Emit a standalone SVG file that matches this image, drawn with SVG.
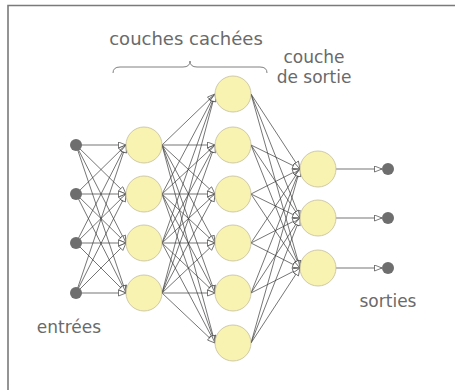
<svg xmlns="http://www.w3.org/2000/svg" width="455" height="390" viewBox="0 0 455 390">
<defs>
<style>
.frame{stroke:#7a7a7a;stroke-width:1.6;fill:none}
.lbl{font-family:"DejaVu Sans",sans-serif;font-size:17px;fill:#6a6a6a;text-anchor:middle}
.neuron{fill:#f8f3b0;stroke:#c4bea0;stroke-width:0.8}
.dot{fill:#6e6e6e}
.conn line{stroke:#3a3a3a;stroke-width:0.7;marker-end:url(#arr)}
.brace{fill:none;stroke:#808080;stroke-width:1}
</style>
<marker id="arr" markerUnits="userSpaceOnUse" markerWidth="10" markerHeight="8" refX="8" refY="3.5" orient="auto">
<path d="M0.5,0.5 L8,3.5 L0.5,6.5 z" fill="#fff" stroke="#444" stroke-width="0.7"/>
</marker>
</defs>
<rect x="0" y="0" width="455" height="390" fill="#fff"/>
<path class="frame" d="M8,390 L8,5.5 L455,5.5"/>

<g id="labels">
<text class="lbl" x="186" y="45" style="font-size:18px">couches cachées</text>
<path class="brace" d="M113,73 Q113,67 120,67 L183,67 Q190,67 190,61 Q190,67 197,67 L260,67 Q267,67 267,73"/>
<text class="lbl" x="314" y="63">couche</text>
<text class="lbl" x="314" y="83">de sortie</text>
<text class="lbl" x="69" y="333">entrées</text>
<text class="lbl" x="388" y="307">sorties</text>
</g>

<g id="connectors" class="conn">
<line x1="76" y1="145" x2="126" y2="145"/><line x1="76" y1="145" x2="126" y2="194"/><line x1="76" y1="145" x2="126" y2="243"/><line x1="76" y1="145" x2="126" y2="293"/>
<line x1="76" y1="194" x2="126" y2="145"/><line x1="76" y1="194" x2="126" y2="194"/><line x1="76" y1="194" x2="126" y2="243"/><line x1="76" y1="194" x2="126" y2="293"/>
<line x1="76" y1="243" x2="126" y2="145"/><line x1="76" y1="243" x2="126" y2="194"/><line x1="76" y1="243" x2="126" y2="243"/><line x1="76" y1="243" x2="126" y2="293"/>
<line x1="76" y1="293" x2="126" y2="145"/><line x1="76" y1="293" x2="126" y2="194"/><line x1="76" y1="293" x2="126" y2="243"/><line x1="76" y1="293" x2="126" y2="293"/>

<line x1="162" y1="145" x2="215" y2="94"/><line x1="162" y1="145" x2="215" y2="145"/><line x1="162" y1="145" x2="215" y2="194"/><line x1="162" y1="145" x2="215" y2="243"/><line x1="162" y1="145" x2="215" y2="293"/><line x1="162" y1="145" x2="215" y2="343"/>
<line x1="162" y1="194" x2="215" y2="94"/><line x1="162" y1="194" x2="215" y2="145"/><line x1="162" y1="194" x2="215" y2="194"/><line x1="162" y1="194" x2="215" y2="243"/><line x1="162" y1="194" x2="215" y2="293"/><line x1="162" y1="194" x2="215" y2="343"/>
<line x1="162" y1="243" x2="215" y2="94"/><line x1="162" y1="243" x2="215" y2="145"/><line x1="162" y1="243" x2="215" y2="194"/><line x1="162" y1="243" x2="215" y2="243"/><line x1="162" y1="243" x2="215" y2="293"/><line x1="162" y1="243" x2="215" y2="343"/>
<line x1="162" y1="293" x2="215" y2="94"/><line x1="162" y1="293" x2="215" y2="145"/><line x1="162" y1="293" x2="215" y2="194"/><line x1="162" y1="293" x2="215" y2="243"/><line x1="162" y1="293" x2="215" y2="293"/><line x1="162" y1="293" x2="215" y2="343"/>

<line x1="251" y1="94" x2="300" y2="169"/><line x1="251" y1="94" x2="300" y2="218"/><line x1="251" y1="94" x2="300" y2="268"/>
<line x1="251" y1="145" x2="300" y2="169"/><line x1="251" y1="145" x2="300" y2="218"/><line x1="251" y1="145" x2="300" y2="268"/>
<line x1="251" y1="194" x2="300" y2="169"/><line x1="251" y1="194" x2="300" y2="218"/><line x1="251" y1="194" x2="300" y2="268"/>
<line x1="251" y1="243" x2="300" y2="169"/><line x1="251" y1="243" x2="300" y2="218"/><line x1="251" y1="243" x2="300" y2="268"/>
<line x1="251" y1="293" x2="300" y2="169"/><line x1="251" y1="293" x2="300" y2="218"/><line x1="251" y1="293" x2="300" y2="268"/>
<line x1="251" y1="343" x2="300" y2="169"/><line x1="251" y1="343" x2="300" y2="218"/><line x1="251" y1="343" x2="300" y2="268"/>

<line x1="336" y1="169" x2="382" y2="169"/><line x1="336" y1="218" x2="382" y2="218"/><line x1="336" y1="268" x2="382" y2="268"/>
</g>

<g id="in1"><circle class="dot" cx="76" cy="145" r="6"/></g>
<g id="in2"><circle class="dot" cx="76" cy="194" r="6"/></g>
<g id="in3"><circle class="dot" cx="76" cy="243" r="6"/></g>
<g id="in4"><circle class="dot" cx="76" cy="293" r="6"/></g>

<g id="h1a"><circle class="neuron" cx="144" cy="145" r="18"/></g>
<g id="h1b"><circle class="neuron" cx="144" cy="194" r="18"/></g>
<g id="h1c"><circle class="neuron" cx="144" cy="243" r="18"/></g>
<g id="h1d"><circle class="neuron" cx="144" cy="293" r="18"/></g>

<g id="h2a"><circle class="neuron" cx="233" cy="94" r="18"/></g>
<g id="h2b"><circle class="neuron" cx="233" cy="145" r="18"/></g>
<g id="h2c"><circle class="neuron" cx="233" cy="194" r="18"/></g>
<g id="h2d"><circle class="neuron" cx="233" cy="243" r="18"/></g>
<g id="h2e"><circle class="neuron" cx="233" cy="293" r="18"/></g>
<g id="h2f"><circle class="neuron" cx="233" cy="343" r="18"/></g>

<g id="o1"><circle class="neuron" cx="318" cy="169" r="18"/></g>
<g id="o2"><circle class="neuron" cx="318" cy="218" r="18"/></g>
<g id="o3"><circle class="neuron" cx="318" cy="268" r="18"/></g>

<g id="out1"><circle class="dot" cx="388" cy="169" r="6"/></g>
<g id="out2"><circle class="dot" cx="388" cy="218" r="6"/></g>
<g id="out3"><circle class="dot" cx="388" cy="268" r="6"/></g>
</svg>
